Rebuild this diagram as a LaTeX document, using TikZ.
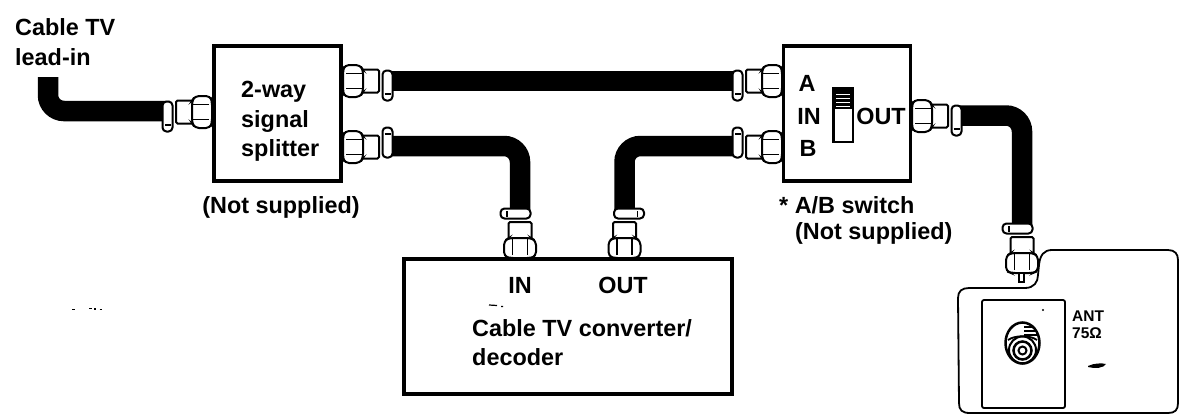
\documentclass[tikz,border=0pt]{standalone}
\usepackage{fontspec}
\setmainfont{Liberation Sans}
\tikzset{
  x=1pt,y=-1pt,
  devbox/.style={draw=black,line width=3.5pt,fill=white,rectangle,inner sep=0pt},
  lbl/.style={font=\fontsize{23.4}{27}\selectfont\bfseries,inner sep=0pt,align=left,text=black},
  lblsmall/.style={font=\fontsize{15.5}{17}\selectfont\bfseries,inner sep=0pt,align=left,text=black},
  cable/.style={draw=black,line width=20.5pt,rounded corners=16pt},
  part/.style={draw=black,line width=2pt,fill=white},
  pics/conn/.style={code={
    \path[part,rounded corners=1.5pt] (19,-11.5) rectangle (36,11.5);
    \path[part,rounded corners=4pt] (2,-16) -- (17,-16) -- (20,-11) -- (20,11) -- (17,16) -- (2,16) -- (0,11) -- (0,-11) -- cycle;
    \draw[line width=1.5pt] (3,-7.5) -- (19,-7.5) (3,7.5) -- (19,7.5);
    \path[part,rounded corners=4pt] (39.5,-10.5) rectangle (49.5,19.5);
    \draw[line width=1.2pt] (41.5,13) -- (47.5,13);
  }}
}
\begin{document}
\begin{tikzpicture}
\useasboundingbox (0,0) rectangle (1184,416);
\fill[white] (0,0) rectangle (1184,416);

% cable end points
\coordinate (leadtop) at (48,77);
\coordinate (leadend) at (170,111);
\coordinate (sAout) at (385,81);
\coordinate (abAin) at (738,81);
\coordinate (sBout) at (385,146);
\coordinate (convIN) at (520,214);
\coordinate (convOUT) at (624.5,214);
\coordinate (abBin) at (738,146);
\coordinate (abOut) at (955,115.5);
\coordinate (tvIn) at (1022,226);

% cables
\draw[cable,line cap=butt] (leadtop) |- (leadend);
\draw[cable,rounded corners=0pt] (sAout) -- (abAin);
\draw[cable] (sBout) -| (convIN);
\draw[cable] (abBin) -| (convOUT);
\draw[cable] (abOut) -| (tvIn);

% devices
\node[devbox,minimum width=127pt,minimum height=135pt] (splitter) at (277.5,113.5) {};
\node[devbox,minimum width=127pt,minimum height=135pt] (abswitch) at (847,113.5) {};
\node[devbox,minimum width=328pt,minimum height=135pt] (converter) at (568,326.5) {};

% connectors
\pic[rotate=180,yscale=-1] at (212,112) {conn};
\pic at (343,81) {conn};
\pic[yscale=-1] at (343,147) {conn};
\pic[rotate=180,yscale=-1] at (782,81) {conn};
\pic[rotate=180] at (782,147) {conn};
\pic at (912,116) {conn};
\pic[rotate=90,yscale=-1] at (520,258) {conn};
\pic[rotate=90] at (624.5,258) {conn};

% TV panel
\draw[black,line width=1.8pt,fill=white] (1039,265)
  .. controls (1040,255) and (1044,250) .. (1052,250)
  -- (1168,250) .. controls (1175,250) and (1178,254) .. (1178,260)
  -- (1178,403) .. controls (1178,410) and (1175,413) .. (1168,413)
  -- (970,413) .. controls (962,413) and (959,410) .. (959,403)
  -- (958,298) .. controls (958,291) and (962,288) .. (969,288)
  -- (1025,288) .. controls (1034,288) and (1038,282) .. (1038,275) -- cycle;
\draw[black,line width=1.8pt,rounded corners=2pt] (982,300) rectangle (1065,408);
\pic[rotate=90,yscale=-1] at (1022,273) {conn};
\draw[part,line width=1.6pt] (1019,273) rectangle (1024,282);

% socket
\draw[black,line width=2.5pt] (1022.5,343) ellipse [x radius=17, y radius=20.5];
\draw[black,line width=1.2pt] (1024,327) -- (1033,327) (1024,331) -- (1036,331) (1024,335) -- (1037,335);
\draw[black,line width=1.8pt] (1008,340) .. controls (1015,335) and (1030,335) .. (1037,340);
\draw[black,line width=2pt] (1022.5,350) circle (13.5);
\draw[black,line width=2.5pt] (1022.5,350.5) circle (9);
\draw[black,line width=2pt] (1022.5,350.5) circle (4);
\fill[black] (1043,310) circle (1.2);
\fill[black] (1088,366) .. controls (1094,363) and (1102,363) .. (1106,364) .. controls (1104,368) and (1095,369) .. (1088,367) -- cycle;

% switch slider
\draw[black,line width=2.5pt,fill=white] (833.5,88) rectangle (853,142);
\fill[black] (833.5,88) rectangle (853,109);
\draw[white,line width=1pt] (836,94) -- (850,94) (836,98) -- (850,98) (836,102) -- (850,102) (836,106) -- (850,106);

% dust marks
\draw[black,line width=1.2pt] (489,305) -- (497,305.5) (501,306.5) -- (503,306.5);
\draw[black,line width=1.2pt] (72,309.5) -- (75,309.5) (89,308.5) -- (92,308.5) (94,309) -- (95.5,309) (99.5,309.5) -- (101.5,309.5);

% labels
\node[lbl,anchor=west] (t1) at (15,27) {Cable TV};
\node[lbl,anchor=west] (t2) at (15,57) {lead-in};
\node[lbl,anchor=west] (t3) at (241,92) {2-way};
\node[lbl,anchor=west] (t4) at (241,121) {signal};
\node[lbl,anchor=west] (t5) at (241,150) {splitter};
\node[lbl,anchor=center] (t6) at (281,207) {(Not supplied)};
\node[lbl,anchor=center] (t7) at (807,83) {A};
\node[lbl,anchor=center] (t8) at (809,116) {IN};
\node[lbl,anchor=center] (t9) at (808,148) {B};
\node[lbl,anchor=center] (t10) at (881,116) {OUT};
\node[lbl,anchor=west] (t11) at (779,205) {* A/B switch};
\node[lbl,anchor=west] (t12) at (795,233) {(Not supplied)};
\node[lbl,anchor=center] (t13) at (520,285) {IN};
\node[lbl,anchor=center] (t14) at (623,285) {OUT};
\node[lbl,anchor=west] (t15) at (472,328) {Cable TV converter/};
\node[lbl,anchor=west] (t16) at (472,357) {decoder};
\node[lblsmall,anchor=west] (t17) at (1072,316) {ANT};
\node[lblsmall,anchor=west] (t18) at (1072,333) {75Ω};
\end{tikzpicture}
\end{document}
